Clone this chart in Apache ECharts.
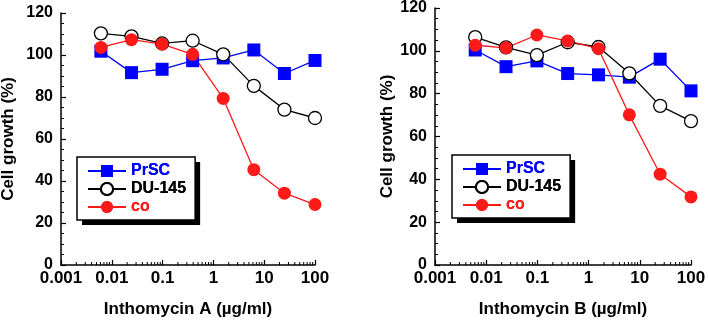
<!DOCTYPE html>
<html>
<head>
<meta charset="utf-8">
<script src="https://cdn.jsdelivr.net/npm/echarts@6/dist/echarts.min.js"></script>
<style>
  html, body { margin: 0; padding: 0; background: #fff; }
  #main { width: 708px; height: 322px; }
</style>
</head>
<body>
<div id="main"></div>
<script>
// concentrations (µg/ml), 4-fold dilutions
var doses = [0.0061, 0.0244, 0.0977, 0.39, 1.56, 6.25, 25, 100];

// Inthomycin A
var prscA = [101.8, 91.6, 93.2, 97.3, 98.6, 102.4, 91.2, 97.4];
var duA = [110.3, 108.9, 105.5, 106.8, 100.3, 85.3, 74.0, 70.0];
var coA = [103.6, 107.3, 105.2, 100.3, 79.3, 45.4, 34.2, 28.8];

// Inthomycin B
var prscB = [100.4, 92.6, 95.3, 89.4, 88.8, 87.7, 96.1, 81.3];
var duB = [106.4, 101.6, 98.0, 104.0, 101.8, 89.5, 74.3, 67.2];
var coB = [102.6, 101.4, 107.4, 104.6, 101.0, 70.1, 42.4, 31.8];

var xNames = ['Inthomycin A (µg/ml)', 'Inthomycin B (µg/ml)'];
var yName = 'Cell growth (%)';

var BLUE = '#0000ff';
var RED = '#ff1a1a';
var FONT = "'Liberation Sans', Arial, sans-serif";

// log minor ticks 2..9 per decade
var minorX = [];
for (var e = -3; e < 2; e++) {
  for (var k = 2; k < 10; k++) minorX.push([+(k * Math.pow(10, e)).toPrecision(3), 0]);
}

function pairs(ys) {
  return ys.map(function (y, i) { return [doses[i], y]; });
}

var chart = echarts.init(document.getElementById('main'), null, { renderer: 'canvas' });

function xAxis(i) {
  return {
    type: 'log', logBase: 10, gridIndex: i, min: 0.001, max: 100,
    name: xNames[i], nameLocation: 'middle', nameGap: 36,
    nameTextStyle: { fontSize: 17, fontWeight: 'bold', color: '#000', fontFamily: FONT },
    axisLine: { lineStyle: { color: '#000', width: 1.5 } },
    axisTick: { inside: true, length: 5, lineStyle: { color: '#000', width: 1.2 } },
    splitLine: { show: false },
    axisLabel: {
      margin: 5, fontSize: 17, fontWeight: 'bold', color: '#000', fontFamily: FONT,
      formatter: function (v) { return String(parseFloat(v.toPrecision(6))); }
    }
  };
}

function yAxis(i, gap) {
  return {
    type: 'value', gridIndex: i, min: 0, max: 120, interval: 20,
    name: yName, nameLocation: 'middle', nameGap: gap,
    nameTextStyle: { fontSize: 17, fontWeight: 'bold', color: '#000', fontFamily: FONT },
    axisLine: { show: true, lineStyle: { color: '#000', width: 1.5 } },
    axisTick: { show: true, inside: true, length: 5, lineStyle: { color: '#000', width: 1.2 } },
    minorTick: { show: true, splitNumber: 4, length: 3, lineStyle: { color: '#000', width: 1 } },
    splitLine: { show: false },
    axisLabel: { margin: 8, fontSize: 16, fontWeight: 'bold', color: '#000', fontFamily: FONT }
  };
}

function lineSeries(name, data, idx, symbol, color, fill) {
  return {
    name: name, type: 'line', xAxisIndex: idx, yAxisIndex: idx,
    data: pairs(data), symbol: symbol, symbolSize: 13,
    showAllSymbol: true, animation: false,
    lineStyle: { color: color, width: 1.3 },
    itemStyle: { color: fill, borderColor: color, borderWidth: fill === '#fff' ? 1.3 : 0 },
    emphasis: { disabled: true }
  };
}

function minorSeries(idx) {
  return {
    type: 'custom', xAxisIndex: idx, yAxisIndex: idx, data: minorX, silent: true,
    animation: false, clip: false, z: 1,
    renderItem: function (params, api) {
      var p = api.coord([api.value(0), 0]);
      return {
        type: 'line',
        shape: { x1: p[0], y1: p[1], x2: p[0], y2: p[1] - 3 },
        style: { stroke: '#000', lineWidth: 1 }
      };
    }
  };
}

function legendText(color) {
  return { color: color, fontSize: 16, fontWeight: 'bold', fontFamily: FONT };
}

// shadowed box underneath (no border, otherwise the border's shadow shows inside)
function legend(left, top, framed) {
  var l = {
    left: left, top: top, orient: 'vertical',
    data: [
      { name: 'PrSC', textStyle: legendText(BLUE) },
      { name: 'DU-145', textStyle: legendText('#000') },
      { name: 'co', textStyle: legendText(RED) }
    ],
    itemWidth: 38, itemHeight: 15, itemGap: 2,
    padding: [6, 9, 5, 10],
    borderRadius: 0,
    selectedMode: false,
    textStyle: legendText('#000')
  };
  if (framed) {
    l.z = 6;
    l.backgroundColor = 'transparent';
    l.borderColor = '#000';
    l.borderWidth = 1.5;
  } else {
    l.z = 5;
    l.backgroundColor = '#fff';
    l.borderWidth = 0;
    l.shadowColor = '#000';
    l.shadowBlur = 0;
    l.shadowOffsetX = 5;
    l.shadowOffsetY = 5;
  }
  return l;
}

var options = {
  backgroundColor: '#fff',
  animation: false,
  grid: [
    { left: 61, top: 13, width: 254, height: 252, outerBoundsMode: 'none' },
    { left: 435, top: 8, width: 256, height: 257, outerBoundsMode: 'none' }
  ],
  legend: [legend(77, 157, false), legend(77, 157, true), legend(452, 155, false), legend(452, 155, true)],
  xAxis: [xAxis(0), xAxis(1)],
  yAxis: [yAxis(0, 44), yAxis(1, 39)],
  series: [
    minorSeries(0),
    minorSeries(1),
    lineSeries('PrSC', prscA, 0, 'rect', BLUE, BLUE),
    lineSeries('DU-145', duA, 0, 'circle', '#000', '#fff'),
    lineSeries('co', coA, 0, 'circle', RED, RED),
    lineSeries('PrSC', prscB, 1, 'rect', BLUE, BLUE),
    lineSeries('DU-145', duB, 1, 'circle', '#000', '#fff'),
    lineSeries('co', coB, 1, 'circle', RED, RED)
  ]
};

chart.setOption(options);
</script>
</body>
</html>
